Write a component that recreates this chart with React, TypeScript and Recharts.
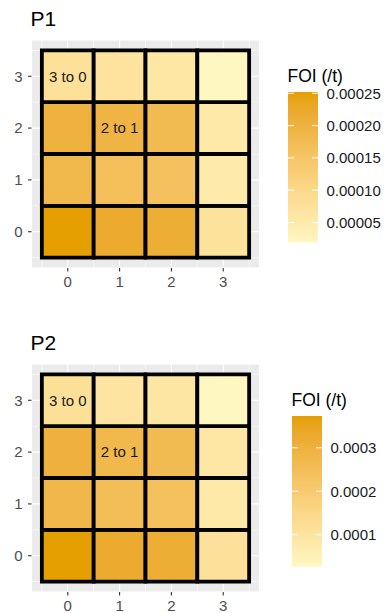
import React from 'react';
import { ScatterChart, Scatter, XAxis, YAxis, CartesianGrid, ReferenceArea } from 'recharts';

// ---------- data ----------
const xCats = [0, 1, 2, 3];
const yCats = [0, 1, 2, 3];
const axisTicks = [0, 1, 2, 3];
const minorBreaks = [-0.5, 0.5, 1.5, 2.5, 3.5];

// P1 values by row (y = 0..3), columns x = 0..3
const p1Row0 = [0.000252, 0.000219, 0.000212, 0.000073];
const p1Row1 = [0.000184, 0.000166, 0.000161, 0.000052];
const p1Row2 = [0.000201, 0.000194, 0.000177, 0.000056];
const p1Row3 = [0.000077, 0.00007, 0.000061, 0.000019];

// P2 values by row
const p2Row0 = [0.000373, 0.000325, 0.000314, 0.00011];
const p2Row1 = [0.000276, 0.000252, 0.000238, 0.0000787];
const p2Row2 = [0.0003, 0.000273, 0.000262, 0.0000891];
const p2Row3 = [0.000117, 0.000096, 0.0000926, 0.0000268];

const tileLabels = [
  { x: 0, y: 3, text: '3 to 0' },
  { x: 1, y: 2, text: '2 to 1' },
];

const p1LegendTicks = [0.00005, 0.0001, 0.00015, 0.0002, 0.00025];
const p1LegendLabels = ['0.00005', '0.00010', '0.00015', '0.00020', '0.00025'];
const p2LegendTicks = [0.0001, 0.0002, 0.0003];
const p2LegendLabels = ['0.0001', '0.0002', '0.0003'];

const LOW = '#FFF7C2';
const HIGH = '#E69F00';
const FONT = '"Liberation Sans", Arial, Helvetica, sans-serif';

// ---------- Lab interpolation (like ggplot's seq_gradient_pal) ----------
const Xn = 0.95047, Yn = 1.0, Zn = 1.08883;
const toLin = (c: number) => { c /= 255; return c <= 0.04045 ? c / 12.92 : Math.pow((c + 0.055) / 1.055, 2.4); };
const toSrgb = (c: number) => {
  const v = c <= 0.0031308 ? 12.92 * c : 1.055 * Math.pow(c, 1 / 2.4) - 0.055;
  return Math.round(Math.max(0, Math.min(1, v)) * 255);
};
const fl = (t: number) => (t > 0.008856 ? Math.cbrt(t) : 7.787 * t + 16 / 116);
const finv = (t: number) => (t > 0.206893 ? t * t * t : (t - 16 / 116) / 7.787);
function hexToLab(hex: string) {
  const r = toLin(parseInt(hex.slice(1, 3), 16));
  const g = toLin(parseInt(hex.slice(3, 5), 16));
  const b = toLin(parseInt(hex.slice(5, 7), 16));
  const X = 0.4124 * r + 0.3576 * g + 0.1805 * b;
  const Y = 0.2126 * r + 0.7152 * g + 0.0722 * b;
  const Z = 0.0193 * r + 0.1192 * g + 0.9505 * b;
  return [116 * fl(Y / Yn) - 16, 500 * (fl(X / Xn) - fl(Y / Yn)), 200 * (fl(Y / Yn) - fl(Z / Zn))];
}
function labToHex(L: number, a: number, bb: number) {
  const fy = (L + 16) / 116, fx = fy + a / 500, fz = fy - bb / 200;
  const X = Xn * finv(fx), Y = Yn * finv(fy), Z = Zn * finv(fz);
  const r = 3.2406 * X - 1.5372 * Y - 0.4986 * Z;
  const g = -0.9689 * X + 1.8758 * Y + 0.0415 * Z;
  const b = 0.0557 * X - 0.204 * Y + 1.057 * Z;
  const h = (v: number) => toSrgb(v).toString(16).padStart(2, '0');
  return '#' + h(r) + h(g) + h(b);
}
const LAB_LOW = hexToLab(LOW);
const LAB_HIGH = hexToLab(HIGH);
function colorAt(t: number) {
  const c = LAB_LOW.map((v, i) => v + (LAB_HIGH[i] - v) * t);
  return labToHex(c[0], c[1], c[2]);
}

type Tile = { x: number; y: number; v: number };
function buildTiles(rows: number[][]): Tile[] {
  const out: Tile[] = [];
  yCats.forEach((y, yi) => xCats.forEach((x, xi) => out.push({ x, y, v: rows[yi][xi] })));
  return out;
}

type PanelProps = {
  title: string;
  rows: number[][];
  legendTicks: number[];
  legendLabels: string[];
  barX: number;
  top: number;
};

const DOMAIN: [number, number] = [-0.7, 3.7];

function Panel({ title, rows, legendTicks, legendLabels, barX, top }: PanelProps) {
  const tiles = buildTiles(rows);
  const vals = tiles.map((t) => t.v);
  const vmin = Math.min(...vals);
  const vmax = Math.max(...vals);
  const norm = (v: number) => (v - vmin) / (vmax - vmin);

  const barTop = 92;
  const barH = 150.5;
  const barW = 30;
  const legY = (v: number) => barTop + (1 - norm(v)) * barH;
  const gradId = 'grad-' + title;
  const stops = Array.from({ length: 21 }, (_, i) => i / 20);

  return (
    <div style={{ position: 'absolute', left: 0, top, width: 385, height: 300 }}>
      <ScatterChart width={385} height={300} margin={{ top: 40, right: 125.5, bottom: 0, left: 1.5 }}>
        <CartesianGrid fill="#EBEBEB" fillOpacity={1} stroke="#FFFFFF" strokeWidth={1.1} />
        <CartesianGrid
          fill="none"
          stroke="#FFFFFF"
          strokeWidth={0.55}
          verticalValues={minorBreaks}
          horizontalValues={minorBreaks}
        />
        <XAxis
          type="number"
          dataKey="x"
          domain={DOMAIN}
          ticks={axisTicks}
          allowDataOverflow
          axisLine={false}
          height={32}
          tickSize={3.5}
          tickMargin={5}
          tickLine={{ stroke: '#333333', strokeWidth: 1.1 }}
          tick={{ fill: '#4D4D4D', fontSize: 15, fontFamily: FONT }}
        />
        <YAxis
          type="number"
          dataKey="y"
          domain={DOMAIN}
          ticks={axisTicks}
          allowDataOverflow
          axisLine={false}
          width={30}
          tickSize={3.5}
          tickMargin={5.5}
          tickLine={{ stroke: '#333333', strokeWidth: 1.1 }}
          tick={{ fill: '#4D4D4D', fontSize: 15, fontFamily: FONT }}
        />
        {tiles.map((t) => {
          const lab = tileLabels.find((l) => l.x === t.x && l.y === t.y);
          return (
            <ReferenceArea
              key={`${t.x}-${t.y}`}
              x1={t.x - 0.5}
              x2={t.x + 0.5}
              y1={t.y - 0.5}
              y2={t.y + 0.5}
              fill={colorAt(norm(t.v))}
              fillOpacity={1}
              stroke="#000000"
              strokeWidth={3.8}
              ifOverflow="visible"
              label={
                lab
                  ? { value: lab.text, position: 'center', fill: '#1A1A1A', fontSize: 15, fontFamily: FONT }
                  : undefined
              }
            />
          );
        })}
        <Scatter data={tiles} isAnimationActive={false} shape={() => <g />} />
      </ScatterChart>
      <svg
        width={385}
        height={300}
        style={{ position: 'absolute', left: 0, top: 0, pointerEvents: 'none' }}
      >
        <defs>
          <linearGradient id={gradId} x1="0" y1="1" x2="0" y2="0">
            {stops.map((s) => (
              <stop key={s} offset={s} stopColor={colorAt(s)} />
            ))}
          </linearGradient>
        </defs>
        <text x={30.5} y={25.7} fontSize={21} fontFamily={FONT} fill="#000000">
          {title}
        </text>
        <text x={barX - 0.5} y={81.5} fontSize={17.5} fontFamily={FONT} fill="#000000">
          FOI (/t)
        </text>
        <rect x={barX} y={barTop} width={barW} height={barH} fill={`url(#${gradId})`} />
        {legendTicks.map((v, i) => (
          <g key={v}>
            <line x1={barX} x2={barX + 6} y1={legY(v)} y2={legY(v)} stroke="#FFFFFF" strokeWidth={1} />
            <line x1={barX + barW - 6} x2={barX + barW} y1={legY(v)} y2={legY(v)} stroke="#FFFFFF" strokeWidth={1} />
            <text
              x={barX + 38.5}
              y={legY(v)}
              dy="0.36em"
              fontSize={15}
              fontFamily={FONT}
              fill="#1A1A1A"
            >
              {legendLabels[i]}
            </text>
          </g>
        ))}
      </svg>
    </div>
  );
}

export default function App() {
  return (
    <div style={{ position: 'absolute', left: 0, top: 0, width: 385, height: 613, background: '#FFFFFF' }}>
      <Panel
        title="P1"
        rows={[p1Row0, p1Row1, p1Row2, p1Row3]}
        legendTicks={p1LegendTicks}
        legendLabels={p1LegendLabels}
        barX={288}
        top={0}
      />
      <Panel
        title="P2"
        rows={[p2Row0, p2Row1, p2Row2, p2Row3]}
        legendTicks={p2LegendTicks}
        legendLabels={p2LegendLabels}
        barX={292}
        top={323.5}
      />
    </div>
  );
}
